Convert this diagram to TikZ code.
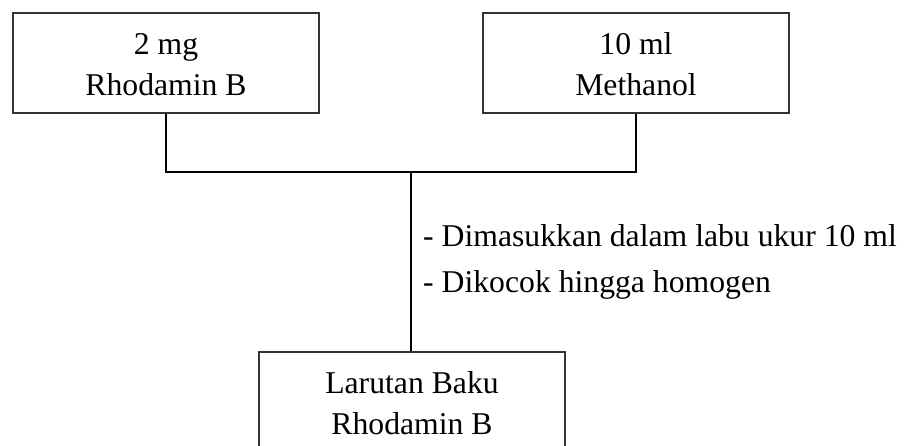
\documentclass[tikz,border=0pt]{standalone}
\usepackage{fontspec}
\setmainfont{Liberation Serif}
\begin{document}
\begin{tikzpicture}[x=1pt,y=-1pt,
  box/.style={draw=black!80,line width=1.3pt,minimum width=306pt,minimum height=100pt,inner sep=0pt},
  txt/.style={font=\fontsize{31.7}{38}\selectfont,inner sep=0pt,anchor=base},
  conn/.style={draw=black,line width=1.6pt}]
\useasboundingbox (0,0) rectangle (905,446);
\fill[white] (0,0) rectangle (905,446);
\node[box] (rb) at (166,63) {};
\node[box] (mb) at (636,63) {};
\node[box] (lb) at (412,402) {};
\node[txt] (rb1) at (166,55) {2 mg};
\node[txt] (rb2) at (166,96) {Rhodamin B};
\node[txt] (mb1) at (636,55) {10 ml};
\node[txt] (mb2) at (636,96) {Methanol};
\node[txt] (lb1) at (412,393) {Larutan Baku};
\node[txt] (lb2) at (412,434) {Rhodamin B};
\coordinate (j) at (411,172);
\draw[conn] (rb.south) |- (mb.south |- j) -- (mb.south);
\draw[conn] (j) -- (j |- lb.north);
\node[txt,anchor=base west] (s1) at (423,247) {- Dimasukkan dalam labu ukur 10 ml};
\node[txt,anchor=base west] (s2) at (423,293) {- Dikocok hingga homogen};
\end{tikzpicture}
\end{document}
